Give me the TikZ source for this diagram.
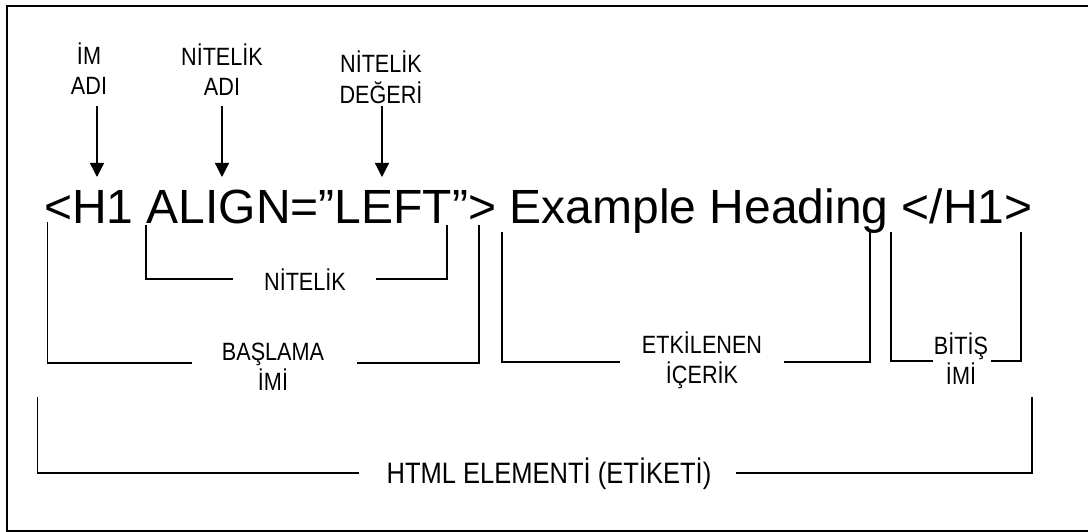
\documentclass[tikz,border=0pt]{standalone}
\usepackage{fontspec}
\setmainfont{Liberation Sans}
\newfontfamily\narrowfont[FakeStretch=0.865]{Liberation Sans}
\usetikzlibrary{arrows.meta}
\begin{document}
\begin{tikzpicture}[x=1pt,y=-1pt,
  lbl/.style={inner sep=0pt, anchor=base, font=\narrowfont\fontsize{25}{30}\selectfont},
  biglbl/.style={inner sep=0pt, anchor=base, font=\narrowfont\fontsize{29.5}{35}\selectfont},
  codetext/.style={inner sep=0pt, anchor=base west, font=\fontsize{48}{58}\selectfont},
  brk/.style={line width=1.3pt},
  arr/.style={line width=1.3pt, -{Triangle[width=14pt,length=14pt]}},
  frm/.style={line width=2pt}]
\clip (0,0) rectangle (1088,532);
% frame (right side lies outside the picture)
\draw[frm] (6.5,6.5) rectangle (1100,530.5);

% top labels
\node[lbl] (imadi) at (89,65) {\begin{tabular}[t]{@{}c@{}}İM\\ADI\end{tabular}};
\node[lbl] (nadi) at (222,66) {\begin{tabular}[t]{@{}c@{}}NİTELİK\\ADI\end{tabular}};
\node[lbl] (ndeg) at (381,73) {\begin{tabular}[t]{@{}c@{}}NİTELİK\\DEĞERİ\end{tabular}};

% main code line
\node[codetext] (code) at (44,223) {<H1 ALIGN=”LEFT”> Example Heading </H1>};

% arrows
\coordinate (s1) at (97,106);  \coordinate (t1) at (97,177);
\coordinate (s2) at (222,106); \coordinate (t2) at (222,177);
\coordinate (s3) at (382,106); \coordinate (t3) at (382,177);
\draw[arr] (s1) -- (t1);
\draw[arr] (s2) -- (t2);
\draw[arr] (s3) -- (t3);

% bracket labels
\node[lbl] (nit) at (305,290) {NİTELİK};
\node[lbl] (basla) at (273,360) {\begin{tabular}[t]{@{}c@{}}BAŞLAMA\\İMİ\end{tabular}};
\node[lbl] (etk) at (702,353) {\begin{tabular}[t]{@{}c@{}}ETKİLENEN\\İÇERİK\end{tabular}};
\node[lbl] (bitis) at (961,354) {\begin{tabular}[t]{@{}c@{}}BİTİŞ\\İMİ\end{tabular}};
\node[biglbl] (html) at (549,483) {HTML ELEMENTİ (ETİKETİ)};

% brackets
\draw[brk] (146,225) |- (233,279) (376,279) -| (447,225);
\draw[brk] (47.6,222) |- (192,363) (357,363) -| (479,225);
\draw[brk] (502,232) |- (620,362) (784,362) -| (870,232);
\draw[brk] (891,232) |- (933,361) (991,361) -| (1021,232);
\draw[brk] (37.5,397) |- (359,473) (736,473) -| (1032,397);
\end{tikzpicture}
\end{document}
